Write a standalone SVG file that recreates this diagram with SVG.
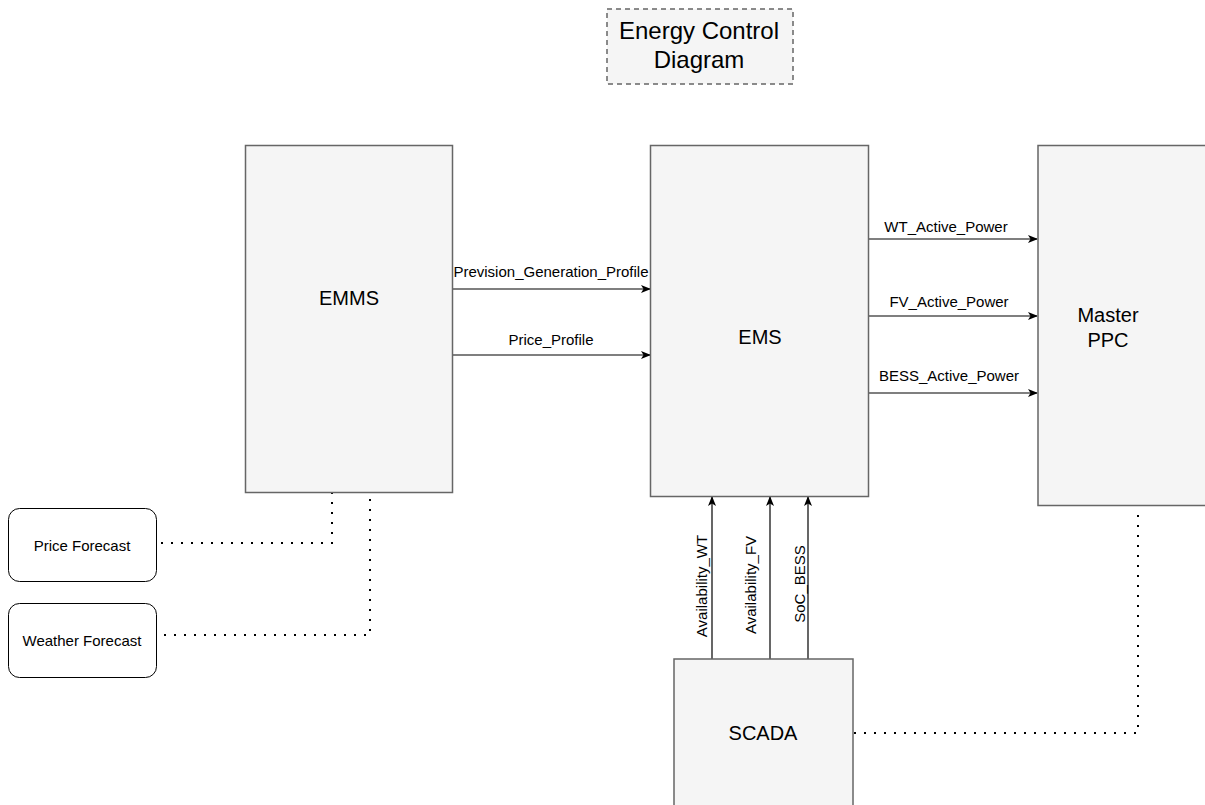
<svg xmlns="http://www.w3.org/2000/svg" width="1205" height="805" viewBox="0 0 1205 805">
<defs>
<style>
.box{fill:#f5f5f5;stroke:#666666;stroke-width:1.5}
.rbox{fill:#ffffff;stroke:#000000;stroke-width:1}
.ttl{font-family:"Liberation Sans",Arial,sans-serif;font-size:24px;fill:#000;text-anchor:middle}
.big{font-family:"Liberation Sans",Arial,sans-serif;font-size:20px;fill:#000;text-anchor:middle}
.sm{font-family:"Liberation Sans",Arial,sans-serif;font-size:15px;fill:#000;text-anchor:middle}
.arr{fill:none;stroke:#000;stroke-width:1.2;marker-end:url(#ah)}
.dot{fill:none;stroke:#000;stroke-width:2;stroke-dasharray:2 8}
</style>
<marker id="ah" viewBox="0 0 10 10" refX="9" refY="5" markerWidth="10" markerHeight="10" markerUnits="userSpaceOnUse" orient="auto">
<path d="M0,1 L10,5 L0,9 L2.5,5 Z" fill="#000"/>
</marker>
</defs>
<rect width="1205" height="805" fill="#ffffff"/>
<g id="title">
<rect x="607" y="9" width="186" height="75" fill="#f5f5f5" stroke="#666666" stroke-width="1.5" stroke-dasharray="5 4"/>
<text class="ttl" x="699" y="39">Energy Control</text>
<text class="ttl" x="699" y="68">Diagram</text>
</g>
<g id="connectors">
<path class="arr" d="M453,289 L650,289"/>
<path class="arr" d="M453,355 L650,355"/>
<path class="arr" d="M869,239 L1037,239"/>
<path class="arr" d="M869,316 L1037,316"/>
<path class="arr" d="M869,393 L1037,393"/>
<path class="arr" d="M712,659 L712,497"/>
<path class="arr" d="M770,659 L770,497"/>
<path class="arr" d="M808,659 L808,497"/>
<path class="dot" d="M161,543 L332,543 L332,493"/>
<path class="dot" d="M164,635 L370,635 L370,493"/>
<path class="dot" d="M854,733 L1138,733 L1138,508"/>
<text class="sm" x="551" y="277">Prevision_Generation_Profile</text>
<text class="sm" x="551" y="345">Price_Profile</text>
<text class="sm" x="946" y="232">WT_Active_Power</text>
<text class="sm" x="949" y="307">FV_Active_Power</text>
<text class="sm" x="949" y="381">BESS_Active_Power</text>
<text class="sm" transform="translate(707,586) rotate(-90)">Availability_WT</text>
<text class="sm" transform="translate(756,585) rotate(-90)">Availability_FV</text>
<text class="sm" transform="translate(805,584) rotate(-90)">SoC_BESS</text>
</g>
<g id="emms">
<rect class="box" x="245.5" y="145.5" width="207" height="347"/>
<text class="big" x="349" y="305">EMMS</text>
</g>
<g id="ems">
<rect class="box" x="650.5" y="145.5" width="218" height="351"/>
<text class="big" x="760" y="344">EMS</text>
</g>
<g id="masterppc">
<rect class="box" x="1038" y="145.5" width="180" height="360"/>
<text class="big" x="1108" y="322">Master</text>
<text class="big" x="1108" y="347">PPC</text>
</g>
<g id="scada">
<rect class="box" x="674" y="659" width="179" height="160"/>
<text class="big" x="763" y="740">SCADA</text>
</g>
<g id="priceforecast">
<rect class="rbox" x="8.5" y="508.5" width="148" height="73" rx="11"/>
<text class="sm" x="82" y="551">Price Forecast</text>
</g>
<g id="weatherforecast">
<rect class="rbox" x="8.5" y="603.5" width="148" height="74" rx="11"/>
<text class="sm" x="82" y="646">Weather Forecast</text>
</g>
</svg>
